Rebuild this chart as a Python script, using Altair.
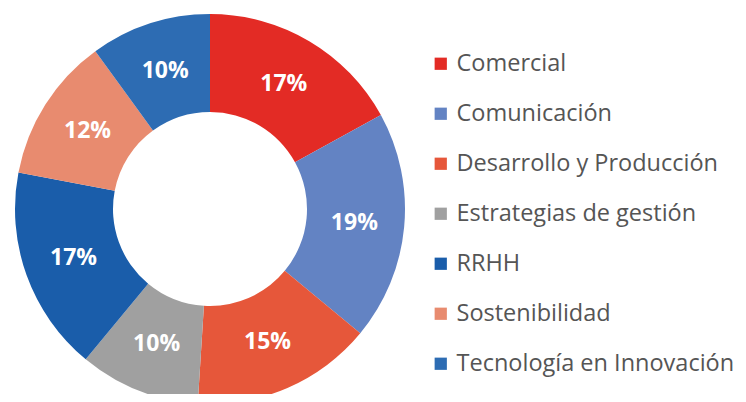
import altair as alt
import pandas as pd

categories = ["Comercial", "Comunicación", "Desarrollo y Producción", "Estrategias de gestión",
              "RRHH", "Sostenibilidad", "Tecnología en Innovación"]
values = [17, 19, 15, 10, 17, 12, 10]
colors = ["#E32B25", "#6383C3", "#E6573A", "#A0A0A0", "#1A5DAA", "#E88B6F", "#2D6CB3"]

df = pd.DataFrame({
    "categoria": categories,
    "valor": values,
    "orden": list(range(len(categories))),
    "etiqueta": [f"{v}%" for v in values],
})

cx, cy = 202, 201

base = alt.Chart(df).encode(
    theta=alt.Theta("valor:Q", stack=True),
    order=alt.Order("orden:Q"),
    x=alt.value(cx),
    y=alt.value(cy),
)

arcs = base.mark_arc(innerRadius=97, outerRadius=195).encode(
    color=alt.Color(
        "categoria:N",
        scale=alt.Scale(domain=categories, range=colors),
        sort=categories,
        legend=alt.Legend(
            title=None,
            orient="none",
            legendX=421,
            legendY=44,
            symbolType="square",
            symbolSize=150,
            symbolStrokeWidth=0,
            labelFontSize=23.5,
            labelFont="Open Sans",
            labelColor="#555555",
            labelOffset=4,
            rowPadding=25,
            labelLimit=400,
        ),
    )
)

labels = base.mark_text(
    radius=145, font="Open Sans", fontSize=23, fontWeight="bold", color="white"
).encode(text="etiqueta:N")

chart = alt.layer(arcs, labels).properties(
    width=730, height=386, padding=0, autosize=alt.AutoSizeParams(type="none")
).configure_view(stroke=None)

chart.save("out.html", embed_options={"renderer": "svg", "actions": False})
